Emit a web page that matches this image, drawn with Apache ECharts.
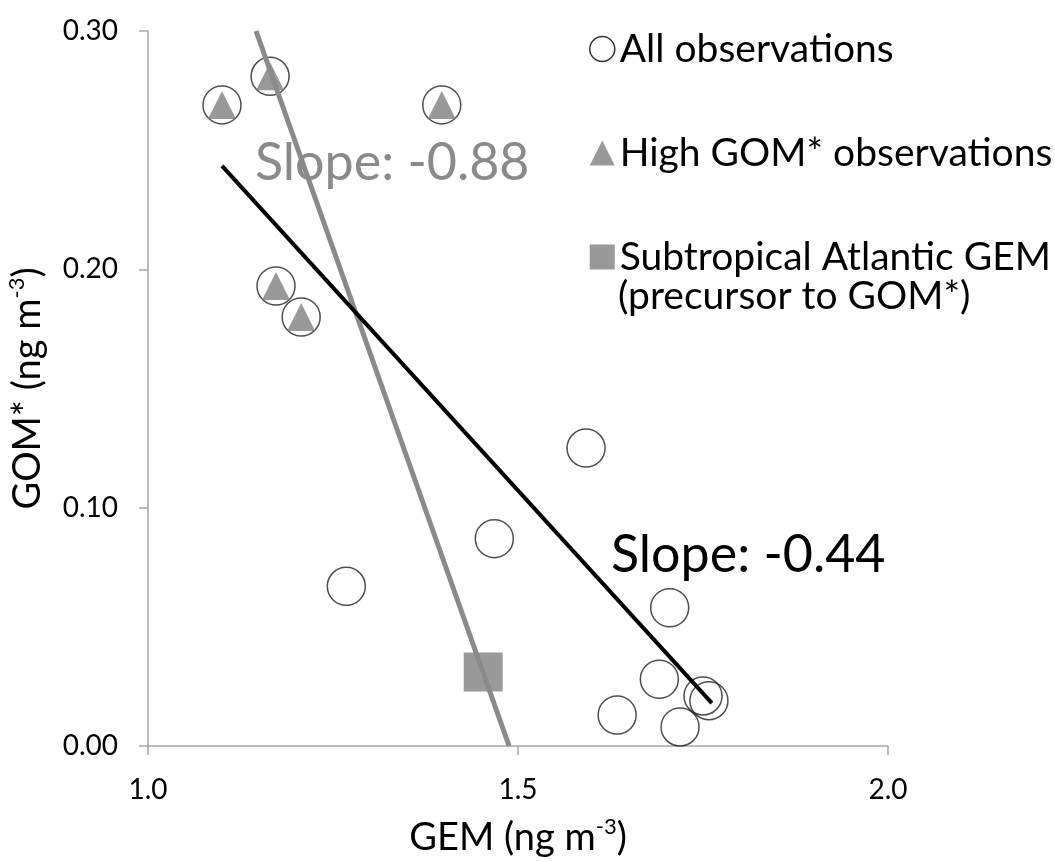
<!DOCTYPE html>
<html>
<head>
<meta charset="utf-8">
<script src="https://cdn.jsdelivr.net/npm/echarts@6/dist/echarts.min.js"></script>
<style>
  html, body { margin: 0; padding: 0; background: #fff; }
  #chart { width: 1055px; height: 862px; }
</style>
</head>
<body>
<div id="chart"></div>
<script>
// data - start
var gem_all = [1.100, 1.165, 1.173, 1.207, 1.397, 1.592, 1.468, 1.268, 1.705, 1.691, 1.634, 1.719, 1.750, 1.758];   // GEM, all observations
var gom_all = [0.269, 0.281, 0.193, 0.180, 0.269, 0.125, 0.087, 0.067, 0.058, 0.028, 0.013, 0.008, 0.021, 0.019];   // GOM*, all observations
var gem_high = [1.100, 1.165, 1.173, 1.207, 1.397];     // high GOM* subset
var gom_high = [0.269, 0.281, 0.193, 0.180, 0.269];
var gem_sub = [1.453];      // subtropical Atlantic GEM
var gom_sub = [0.031];
var grey_fit_x = [1.146, 1.488];    // slope -0.88 line ends
var grey_fit_y = [0.300, 0.000];
var black_fit_x = [1.100, 1.762];   // slope -0.44 line ends
var black_fit_y = [0.2434, 0.018];
var x_ticks = [1.0, 1.5, 2.0];
var y_ticks = [0.00, 0.10, 0.20, 0.30];
var names = ['All observations', 'High GOM* observations', 'Subtropical Atlantic GEM (precursor to GOM*)'];
// data - end

var FONT = 'Lato';
var GREY = '#7f7f7f';

function pairs(xs, ys) {    // zip two arrays into [x, y] points
    var out = [];
    for (var i = 0; i < xs.length; i++) {
        out.push([xs[i], ys[i]]);
    }
    return out;
}

var chart = echarts.init(document.getElementById('chart'));

var option = {
    animation: false,
    textStyle: { fontFamily: FONT },
    grid: { left: 148, right: 167, top: 31, bottom: 116, outerBoundsMode: 'none' },

    legend: {
        orient: 'vertical',
        left: 584,
        top: 22,
        itemWidth: 25,
        itemHeight: 25,
        itemGap: 60,
        textStyle: { fontFamily: FONT, fontSize: 39, lineHeight: 44, color: '#000' },
        formatter: function (name) {
            if (name == names[2]) return 'Subtropical Atlantic GEM';   // 2nd line drawn as graphic
            return name;
        },
        data: [
            { name: names[0], icon: 'circle', itemStyle: { color: '#fff', borderColor: '#000', borderWidth: 1.5 } },
            { name: names[1], icon: 'triangle', itemStyle: { color: GREY } },
            { name: names[2], icon: 'rect', itemStyle: { color: GREY } }
        ]
    },

    xAxis: {
        type: 'value',
        min: x_ticks[0],
        max: x_ticks[x_ticks.length - 1],
        interval: 0.5,
        splitLine: { show: false },
        axisLine: { lineStyle: { color: '#a6a6a6', width: 1.5 } },
        axisTick: { show: true, length: 9, lineStyle: { color: '#a6a6a6', width: 1.5 } },
        axisLabel: {
            fontSize: 28, color: '#000', margin: 30,
            formatter: function (v) { return v.toFixed(1); }
        },
        name: '{n|GEM (ng m}{s|-3}{n|)}',
        nameLocation: 'middle',
        nameGap: 70,
        nameTextStyle: {
            rich: {
                n: { fontFamily: FONT, fontSize: 38, color: '#000', lineHeight: 44 },
                s: { fontFamily: FONT, fontSize: 22, color: '#000', verticalAlign: 'top', lineHeight: 24 }
            }
        }
    },

    yAxis: {
        type: 'value',
        min: y_ticks[0],
        max: y_ticks[y_ticks.length - 1],
        interval: 0.1,
        splitLine: { show: false },
        axisLine: { show: true, lineStyle: { color: '#a6a6a6', width: 1.5 } },
        axisTick: { show: true, length: 9, lineStyle: { color: '#a6a6a6', width: 1.5 } },
        axisLabel: {
            fontSize: 28, color: '#000', margin: 30,
            formatter: function (v) { return v.toFixed(2); }
        },
        name: '{n|GOM* (ng m}{s|-3}{n|)}',
        nameLocation: 'middle',
        nameRotate: 90,
        nameGap: 98,
        nameTextStyle: {
            rich: {
                n: { fontFamily: FONT, fontSize: 38, color: '#000', lineHeight: 44 },
                s: { fontFamily: FONT, fontSize: 22, color: '#000', verticalAlign: 'top', lineHeight: 24 }
            }
        }
    },

    series: [
        {
            name: names[0],
            type: 'scatter',
            symbol: 'circle',
            symbolSize: 38,
            itemStyle: { color: 'rgba(255,255,255,0)', borderColor: '#222', borderWidth: 1.5 },
            data: pairs(gem_all, gom_all),
            z: 2
        },
        {
            name: names[1],
            type: 'scatter',
            symbol: 'triangle',
            symbolSize: 28,
            itemStyle: { color: GREY },
            data: pairs(gem_high, gom_high),
            z: 3
        },
        {
            name: names[2],
            type: 'scatter',
            symbol: 'rect',
            symbolSize: 39,
            itemStyle: { color: GREY },
            data: pairs(gem_sub, gom_sub),
            z: 3
        },
        {   // grey fit, slope -0.88
            type: 'line',
            showSymbol: false,
            silent: true,
            lineStyle: { color: '#8a8a8a', width: 5 },
            data: pairs(grey_fit_x, grey_fit_y),
            z: 4
        },
        {   // black fit, slope -0.44
            type: 'line',
            showSymbol: false,
            silent: true,
            lineStyle: { color: '#000', width: 4 },
            data: pairs(black_fit_x, black_fit_y),
            z: 5
        }
    ],

    graphic: [
        {   // second line of the third legend entry
            type: 'text', left: 618, top: 277,
            style: { text: '(precursor to GOM*)', font: '39px ' + FONT, fill: '#000' }
        },
        {
            type: 'text', left: 255, top: 137,
            style: { text: 'Slope: -0.88', font: '52px ' + FONT, fill: '#8a8a8a' }
        },
        {
            type: 'text', left: 611, top: 529,
            style: { text: 'Slope: -0.44', font: '52px ' + FONT, fill: '#000' }
        }
    ]
};
chart.setOption(option);
</script>
</body>
</html>
